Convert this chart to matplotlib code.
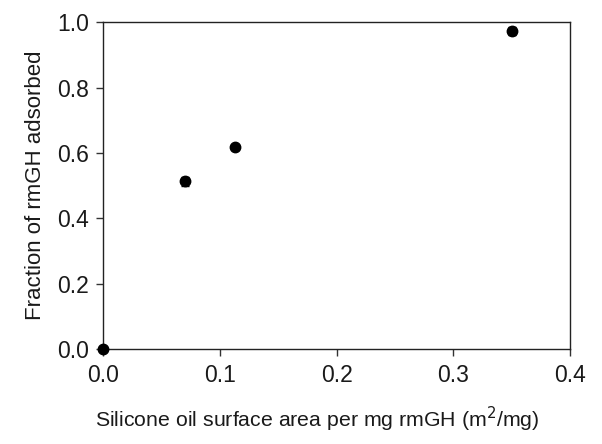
import numpy as np
import matplotlib.pyplot as plt

plt.rcParams['font.family'] = ['Liberation Sans', 'DejaVu Sans']

# data
surface_area = [0.0, 0.070, 0.113, 0.350]
fraction = [0.0, 0.513, 0.617, 0.973]
fraction_err = [0.0, 0.014, 0.008, 0.012]

x_ticks = [0.0, 0.1, 0.2, 0.3, 0.4]
y_ticks = [0.0, 0.2, 0.4, 0.6, 0.8, 1.0]

fig = plt.figure(figsize=(6.02, 4.44), dpi=100)
ax = fig.add_axes([0.171, 0.214, 0.776, 0.736])

ax.errorbar(surface_area, fraction, yerr=fraction_err, fmt='o', color='black',
            markersize=7.5, capsize=3, elinewidth=1, capthick=1, clip_on=False, zorder=5)

ax.set_xlim(0, 0.4)
ax.set_ylim(0, 1.0)
ax.set_xticks(x_ticks)
ax.set_yticks(y_ticks)
ax.set_xticklabels([f'{v:.1f}' for v in x_ticks])
ax.set_yticklabels([f'{v:.1f}' for v in y_ticks])
ax.tick_params(direction='out', length=5, width=1, labelsize=16.5, color='#333333',
               labelcolor='#1a1a1a')
ax.tick_params(axis='x', pad=6)
ax.tick_params(axis='y', pad=5)
for s in ax.spines.values():
    s.set_linewidth(1)
    s.set_color('#222222')

ax.set_xlabel('Silicone oil surface area per mg rmGH (m$^{2}$/mg)', fontsize=15.3,
              color='#1a1a1a')
ax.xaxis.set_label_coords(0.458, -0.172)
ax.set_ylabel('Fraction of rmGH adsorbed', fontsize=16, labelpad=8, color='#1a1a1a')

plt.savefig('out.png', dpi=100)
